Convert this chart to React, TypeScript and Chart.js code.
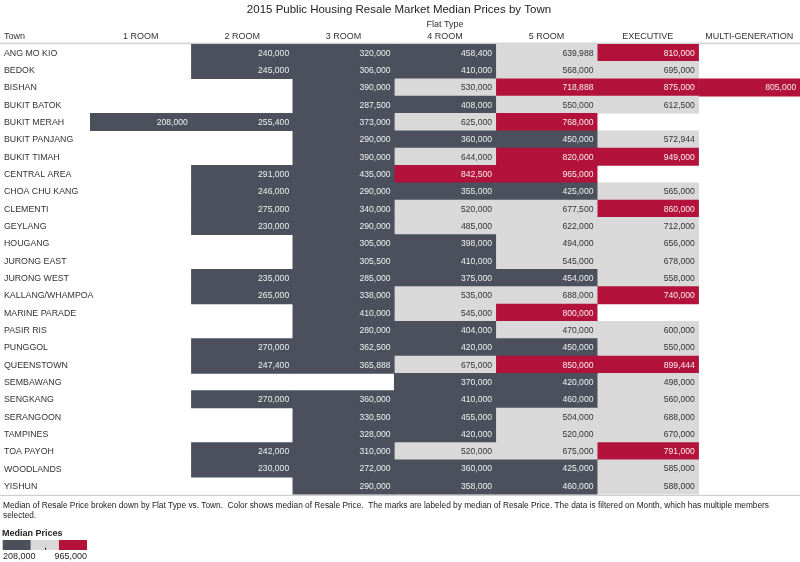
import React, { useEffect, useRef } from "react";
import { Chart, registerables } from "chart.js";

Chart.register(...registerables);

const towns = [
  "ANG MO KIO", "BEDOK", "BISHAN", "BUKIT BATOK", "BUKIT MERAH", "BUKIT PANJANG",
  "BUKIT TIMAH", "CENTRAL AREA", "CHOA CHU KANG", "CLEMENTI", "GEYLANG", "HOUGANG",
  "JURONG EAST", "JURONG WEST", "KALLANG/WHAMPOA", "MARINE PARADE", "PASIR RIS",
  "PUNGGOL", "QUEENSTOWN", "SEMBAWANG", "SENGKANG", "SERANGOON", "TAMPINES",
  "TOA PAYOH", "WOODLANDS", "YISHUN",
];

const flatTypes = ["1 ROOM", "2 ROOM", "3 ROOM", "4 ROOM", "5 ROOM", "EXECUTIVE", "MULTI-GENERATION"];

const room1 = [null, null, null, null, 208000, null, null, null, null, null, null, null, null, null, null, null, null, null, null, null, null, null, null, null, null, null];
const room2 = [240000, 245000, null, null, 255400, null, null, 291000, 246000, 275000, 230000, null, null, 235000, 265000, null, null, 270000, 247400, null, 270000, null, null, 242000, 230000, null];
const room3 = [320000, 306000, 390000, 287500, 373000, 290000, 390000, 435000, 290000, 340000, 290000, 305000, 305500, 285000, 338000, 410000, 280000, 362500, 365888, null, 360000, 330500, 328000, 310000, 272000, 290000];
const room4 = [458400, 410000, 530000, 408000, 625000, 360000, 644000, 842500, 355000, 520000, 485000, 398000, 410000, 375000, 535000, 545000, 404000, 420000, 675000, 370000, 410000, 455000, 420000, 520000, 360000, 358000];
const room5 = [639988, 568000, 718888, 550000, 768000, 450000, 820000, 965000, 425000, 677500, 622000, 494000, 545000, 454000, 688000, 800000, 470000, 450000, 850000, 420000, 460000, 504000, 520000, 675000, 425000, 460000];
const executive = [810000, 695000, 875000, 612500, null, 572944, 949000, null, 565000, 860000, 712000, 656000, 678000, 558000, 740000, null, 600000, 550000, 899444, 498000, 560000, 688000, 670000, 791000, 585000, 588000];
const multiGen = [null, null, 805000, null, null, null, null, null, null, null, null, null, null, null, null, null, null, null, null, null, null, null, null, null, null, null];

const columns = [room1, room2, room3, room4, room5, executive, multiGen];

const minPrice = 208000;
const maxPrice = 965000;
const palette = ["#4b505c", "#d9d9d9", "#b3123b"];
const textColors = ["#f0f0f0", "#333333", "#f6eef0"];

function bin(v: number) {
  const t = (v - minPrice) / (maxPrice - minPrice);
  return Math.max(0, Math.min(2, Math.floor(t * 3)));
}

const fmt = (v: number) => v.toLocaleString("en-US");

const FONT = "Arial, 'Liberation Sans', sans-serif";

const tablePlugin = {
  id: "tablePlugin",
  beforeDatasetsDraw(chart: any) {
    const ctx = chart.ctx;
    ctx.save();
    ctx.fillStyle = "#d6d6d6";
    ctx.fillRect(0, 42.5, 800, 1.8);
    ctx.fillStyle = "#cfcfcf";
    ctx.fillRect(0, 494.8, 800, 1.2);
    ctx.restore();
  },
  afterDatasetsDraw(chart: any) {
    const ctx = chart.ctx;
    const xs = chart.scales.x;
    const ys = chart.scales.y;
    const area = chart.chartArea;
    ctx.save();
    // title
    ctx.fillStyle = "#222";
    ctx.textBaseline = "middle";
    ctx.textAlign = "center";
    ctx.font = `11.5px ${FONT}`;
    ctx.fillText("2015 Public Housing Resale Market Median Prices by Town", 399, 10);
    // headers
    ctx.fillStyle = "#333";
    ctx.font = `9px ${FONT}`;
    ctx.fillText("Flat Type", (area.left + area.right) / 2, 24.5);
    flatTypes.forEach((ft, c) => {
      ctx.fillText(ft, xs.getPixelForValue(c + 0.5), 36.5);
    });
    ctx.textAlign = "left";
    ctx.fillText("Town", 4, 36.5);
    // row labels
    ctx.font = `8.8px ${FONT}`;
    towns.forEach((t, i) => {
      ctx.fillText(t, 4, ys.getPixelForValue(i) + 0.5);
    });
    // values
    ctx.textAlign = "right";
    ctx.font = `8.6px ${FONT}`;
    columns.forEach((col, c) => {
      col.forEach((v, i) => {
        if (v == null) return;
        ctx.fillStyle = textColors[bin(v)];
        ctx.fillText(fmt(v), xs.getPixelForValue(c + 1) - 3.7, ys.getPixelForValue(i) + 0.5);
      });
    });
    // caption
    ctx.fillStyle = "#222";
    ctx.font = `8.3px ${FONT}`;
    ctx.textAlign = "left";
    ctx.fillText(
      "Median of Resale Price broken down by Flat Type vs. Town.  Color shows median of Resale Price.  The marks are labeled by median of Resale Price. The data is filtered on Month, which has multiple members",
      3, 506
    );
    ctx.fillText("selected.", 3, 515.5);
    // legend
    ctx.font = `bold 9px ${FONT}`;
    ctx.fillText("Median Prices", 2, 534);
    const lx = 2.7, lw = 84.3, ly = 540, lh = 10;
    for (let k = 0; k < 3; k++) {
      ctx.fillStyle = palette[k];
      ctx.fillRect(lx + (lw / 3) * k, ly, lw / 3, lh);
    }
    ctx.fillStyle = "#333";
    ctx.fillRect(45, ly + lh - 2.5, 1, 2.5);
    ctx.font = `9px ${FONT}`;
    ctx.fillStyle = "#222";
    ctx.textAlign = "left";
    ctx.fillText(fmt(minPrice), 3, 556.5);
    ctx.textAlign = "right";
    ctx.fillText(fmt(maxPrice), 87, 556.5);
    ctx.restore();
  },
};

export default function App() {
  const ref = useRef<HTMLCanvasElement | null>(null);
  useEffect(() => {
    document.body.style.margin = "0";
    const canvas = ref.current;
    if (!canvas) return;
    const chart = new Chart(canvas, {
      type: "bar",
      data: {
        labels: towns,
        datasets: columns.map((col, c) => ({
          label: flatTypes[c],
          data: col.map((v) => (v == null ? null : [c, c + 1])) as any,
          backgroundColor: col.map((v) => (v == null ? "rgba(0,0,0,0)" : palette[bin(v)])),
          borderWidth: 0,
          borderSkipped: false,
          grouped: false,
          barPercentage: 1,
          categoryPercentage: 1,
        })),
      },
      options: {
        indexAxis: "y",
        animation: false,
        responsive: false,
        devicePixelRatio: 1,
        layout: { padding: { left: 90, right: 0, top: 44.1, bottom: 562 - 494.6 } },
        scales: {
          x: { type: "linear", min: 0, max: 7, display: false },
          y: { type: "category", display: false, offset: true },
        },
        plugins: {
          legend: { display: false },
          title: { display: false },
          tooltip: { enabled: false },
        },
      },
      plugins: [tablePlugin],
    } as any);
    return () => chart.destroy();
  }, []);
  return (
    <div style={{ width: 800, height: 562, background: "#fff" }}>
      <canvas ref={ref} width={800} height={562} style={{ display: "block" }} />
    </div>
  );
}
